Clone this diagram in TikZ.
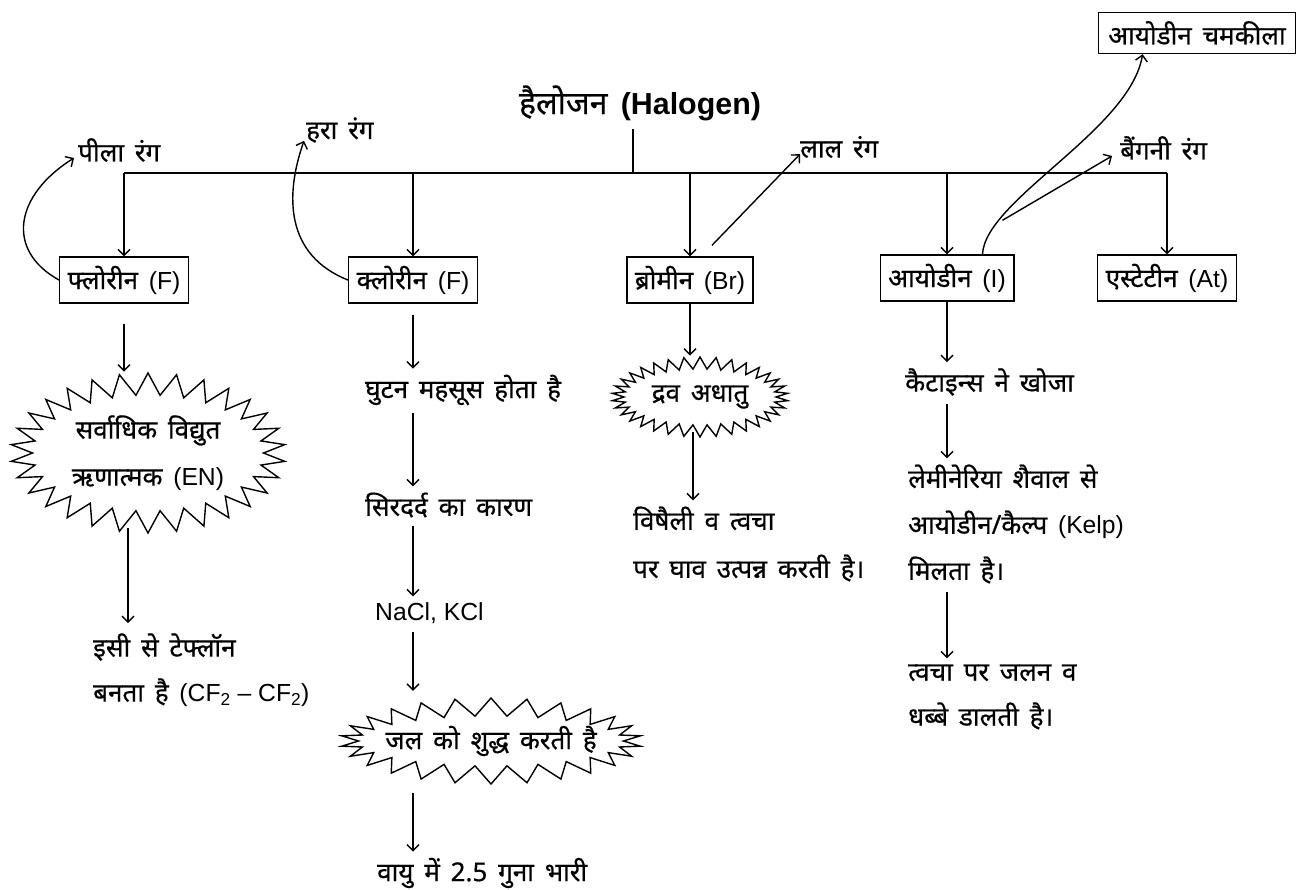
\documentclass[tikz,border=0pt]{standalone}
\usepackage{fontspec}
\setmainfont{Noto Sans}[Script=Devanagari,WordSpace=1.6,FakeBold=0.6]
\newfontfamily\lat{Liberation Sans}[Scale=0.95]
\usetikzlibrary{arrows.meta,shapes.symbols,calc}
\begin{document}
\begin{tikzpicture}[x=1pt,y=-1pt,
  every node/.style={font=\fontsize{26}{30}\selectfont, inner sep=0pt},
  arr/.style={line width=1.4pt,-{Straight Barb[length=6pt,width=12pt,line width=1.4pt]}},
  ln/.style={line width=1.4pt},
  elbox/.style={draw,line width=1.4pt,minimum height=46pt,inner xsep=8pt},
  burst/.style={draw,line width=1.4pt,starburst,random starburst=0,align=center},
  txt/.style={anchor=west,align=left},
]
\useasboundingbox (0,0) rectangle (1302,890);

% title and top row
\node (title) at (640,103) {\fontsize{32}{38}\selectfont\bfseries हैलोजन {\lat (Halogen)}};
\node[elbox] (fl) at (124,280) {फ्लोरीन {\lat (F)}};
\node[elbox] (cl) at (413,280) {क्लोरीन {\lat (F)}};
\node[elbox] (br) at (690,280) {ब्रोमीन {\lat (Br)}};
\node[elbox] (io) at (947,278) {आयोडीन {\lat (I)}};
\node[elbox] (at) at (1167,278) {एस्टेटीन {\lat (At)}};
\node[elbox,minimum height=41pt,inner xsep=10pt] (cham) at (1197,33) {आयोडीन चमकीला};

\node[anchor=west] (pila) at (78,150) {पीला रंग};
\node[anchor=west] (hara) at (306,130) {हरा रंग};
\node[anchor=west] (lal) at (800,147) {लाल रंग};
\node[anchor=west] (baing) at (1120,148) {बैंगनी रंग};

\coordinate (junc) at (633,173);
\draw[ln] ([yshift=-8pt]title.south -| junc) -- (junc);
\draw[ln] (fl.north |- junc) -- (at.north |- junc);
\foreach \n in {fl,cl,br,io,at} \draw[arr] (\n.north |- junc) -- (\n.north);

% colour arrows
\draw[arr] (fl.west) .. controls (5,250) and (15,195) .. ([xshift=-4pt,yshift=4pt]pila.south west);
\draw[arr] (cl.west) .. controls (285,255) and (285,195) .. ([xshift=-2pt,yshift=2pt]hara.south west);
\draw[arr] ($(br.north)+(22,-11)$) -- ([yshift=4pt]lal.south west);
\draw[arr] ($(io.north east)+(-32,0)$) .. controls (985,200) and (1130,130) .. ($(cham.south west)+(45,0)$);
\draw[arr] ($(io.north east)+(-12,-34)$) -- ($(baing.south west)+(-8,-4)$);

% fluorine column
\node[burst,minimum width=275pt,minimum height=160pt,starburst points=30,starburst point height=22pt,
  font=\fontsize{26}{47}\selectfont] (flstar) at (148,453) {सर्वाधिक विद्युत\\ऋणात्मक {\lat (EN)}};
\node[txt,font=\fontsize{26}{45}\selectfont] (tef) at (93,670) {इसी से टेफ्लॉन\\बनता है {\lat (CF\textsubscript{2} – CF\textsubscript{2})}};
\draw[arr,shorten <=20pt] (fl.south) -- (fl.south |- flstar.north);
\coordinate (f1) at ($(flstar.south)+(-20,-6)$);
\draw[arr,shorten >=10pt] (f1) -- (f1 |- tef.north);

% chlorine column
\node[txt] (gh) at (365,390) {घुटन महसूस होता है};
\node[txt] (sd) at (365,505) {सिरदर्द का कारण};
\node[txt] (nacl) at (375,613) {\lat NaCl, KCl};
\node[burst,minimum width=298pt,minimum height=86pt,inner xsep=-12pt,starburst points=26,starburst point height=18pt] (jal) at (491,741) {जल को शुद्ध करती है};
\node[txt] (vayu) at (377,873) {वायु में 2.5 गुना भारी};
\draw[arr,shorten <=11pt,shorten >=6pt] (cl.south) -- (cl.south |- gh.north);
\draw[arr,shorten <=8pt,shorten >=6pt] (cl.south |- gh.south) -- (cl.south |- sd.north);
\draw[arr,shorten <=8pt,shorten >=6pt] (cl.south |- sd.south) -- (cl.south |- nacl.north);
\draw[arr,shorten <=8pt,shorten >=6pt] (cl.south |- nacl.south) -- (cl.south |- jal.north);
\draw[arr,shorten <=8pt,shorten >=6pt] (cl.south |- jal.south) -- (cl.south |- vayu.north);

% bromine column
\node[burst,minimum width=176pt,minimum height=80pt,starburst points=34,starburst point height=12pt] (drav) at (700,397) {द्रव अधातु};
\node[txt,font=\fontsize{26}{48}\selectfont] (vish) at (633,544) {विषैली व त्वचा\\पर घाव उत्पन्न करती है।};
\draw[arr] (br.south) -- (br.south |- drav.north);
\coordinate (b1) at ($(drav.south)+(-7,-6)$);
\draw[arr,shorten >=6pt] (b1) -- (b1 |- vish.north);

% iodine column
\node[txt] (kat) at (905,382) {कैटाइन्स ने खोजा};
\node[txt,font=\fontsize{26}{46}\selectfont] (lem) at (908,524) {लेमीनेरिया शैवाल से\\आयोडीन/कैल्प {\lat (Kelp)}\\मिलता है।};
\node[txt,font=\fontsize{26}{45}\selectfont] (tva) at (908,697) {त्वचा पर जलन व\\धब्बे डालती है।};
\draw[arr,shorten >=6pt] (io.south) -- (io.south |- kat.north);
\draw[arr,shorten <=8pt,shorten >=6pt] (io.south |- kat.south) -- (io.south |- lem.north);
\draw[arr,shorten <=8pt,shorten >=6pt] (io.south |- lem.south) -- (io.south |- tva.north);
\end{tikzpicture}
\end{document}
